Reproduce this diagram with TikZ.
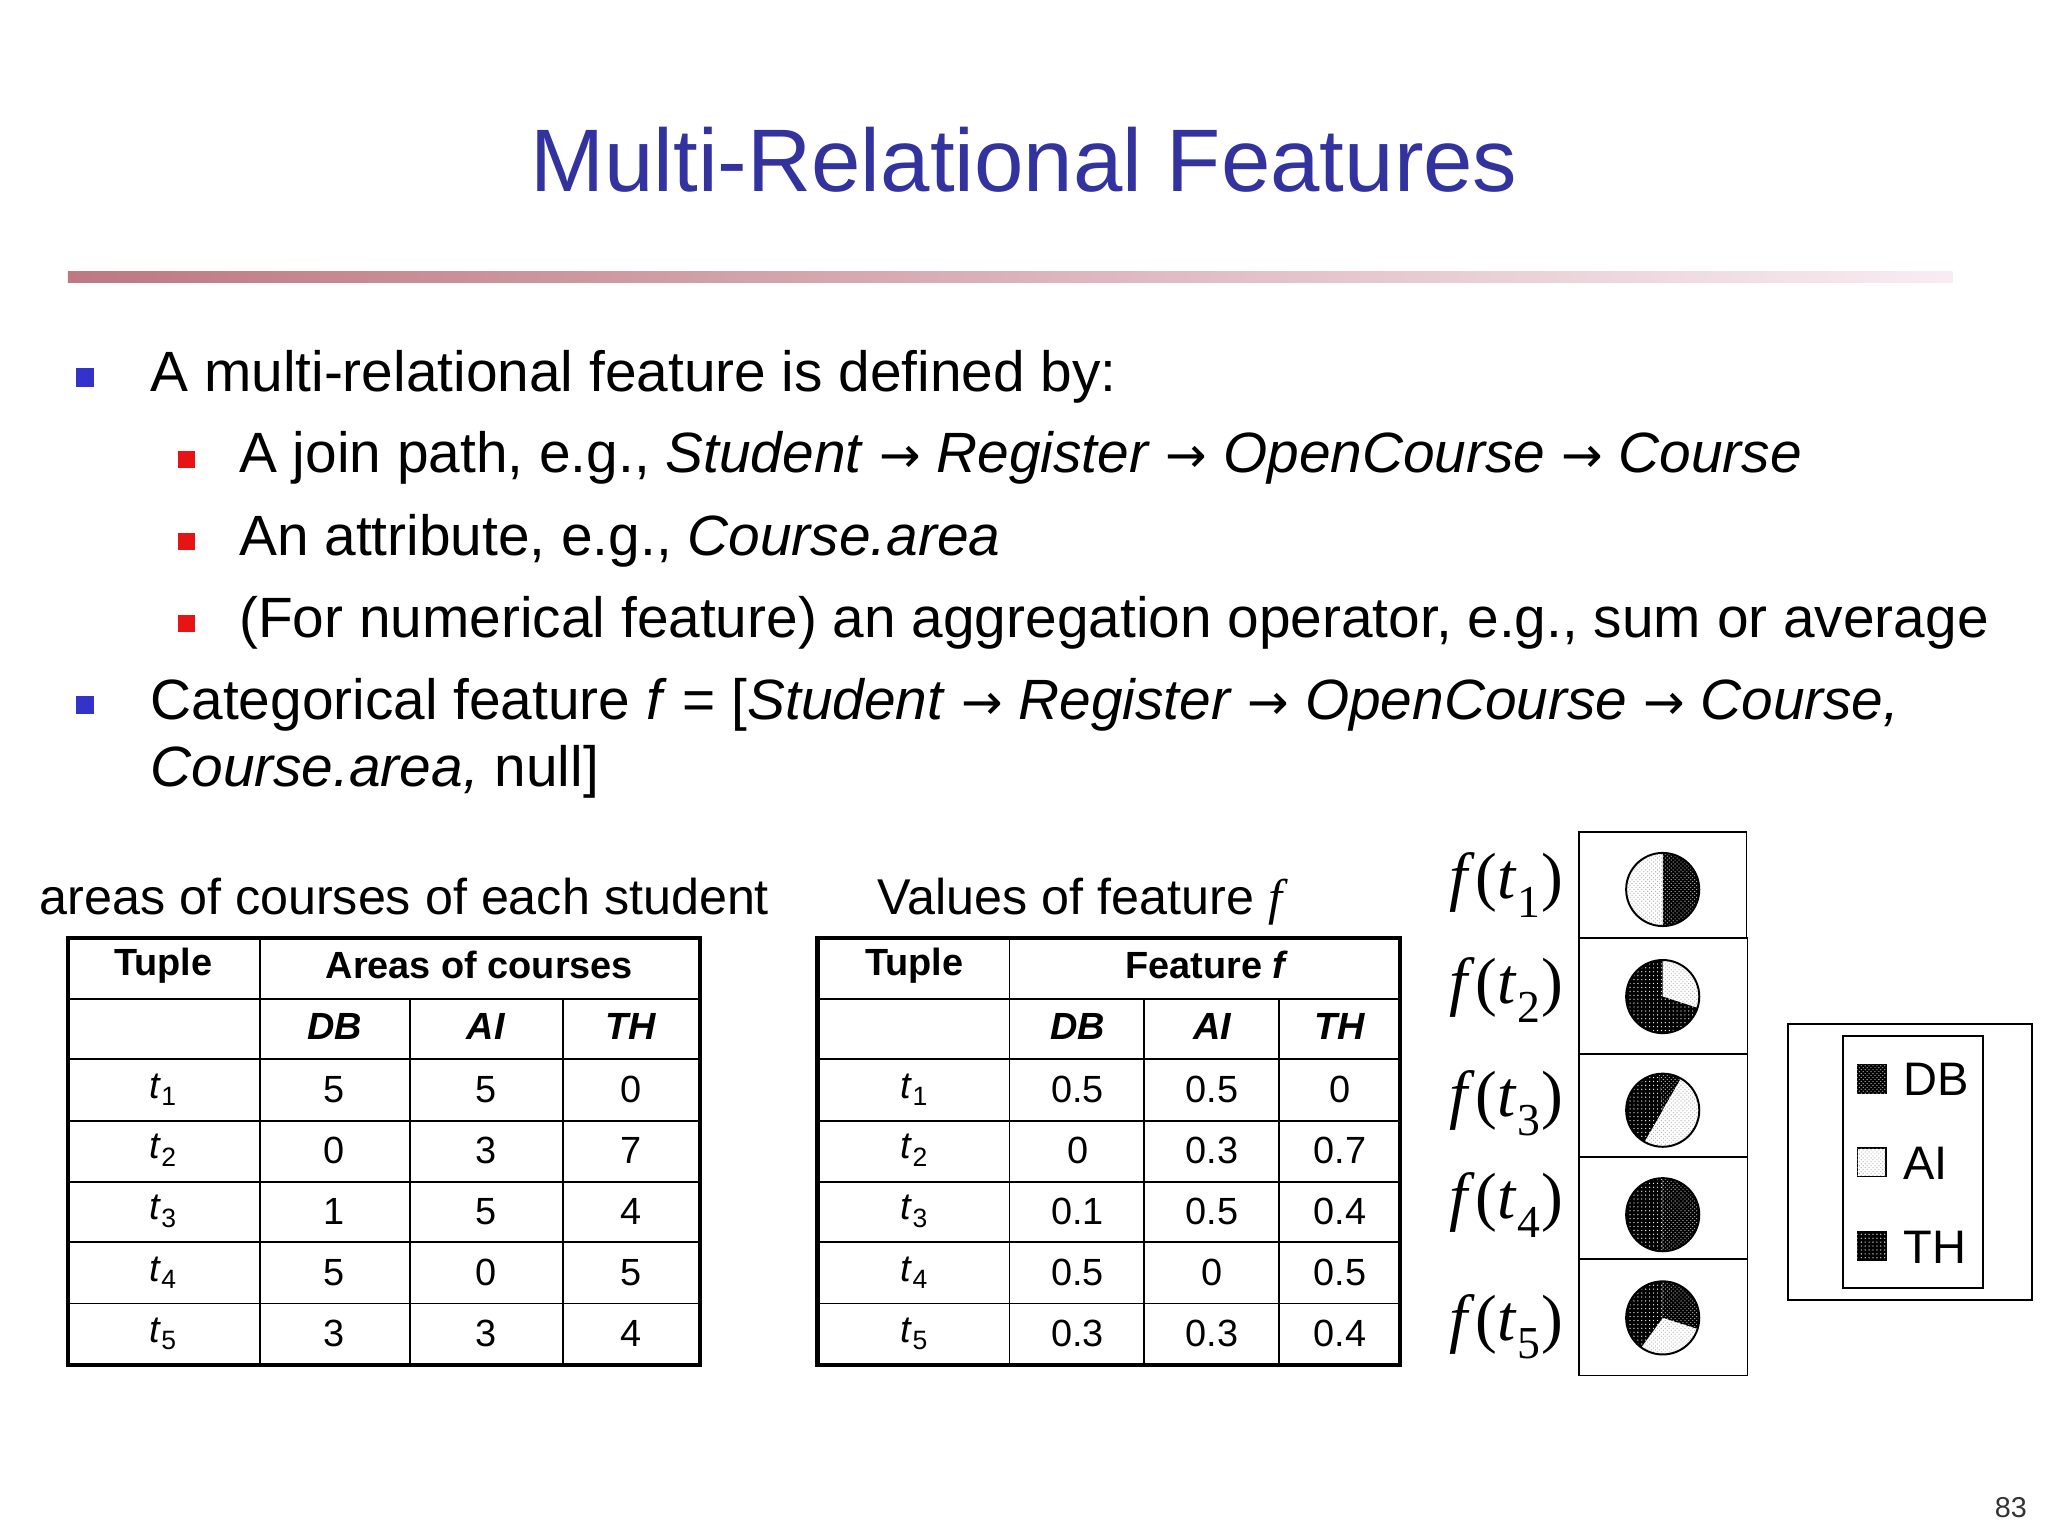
\documentclass[tikz,border=0pt]{standalone}
\usepackage{fontspec}
\setmainfont{Liberation Sans}
\newfontfamily\tms{Liberation Serif}
\newfontfamily\djv{DejaVu Sans}
\usetikzlibrary{patterns}
\definecolor{titleblue}{RGB}{51,51,160}
\definecolor{bulblue}{RGB}{51,51,204}
\definecolor{bulred}{RGB}{230,20,20}
\definecolor{rulered}{RGB}{190,120,130}
\definecolor{rulepink}{RGB}{248,236,242}
\newcommand{\arr}{{\djv\fontsize{38}{44}\selectfont →}}
\tikzset{
  body/.style={anchor=base west,font=\fontsize{43.5}{52}\selectfont,inner sep=0},
  cell/.style={font=\fontsize{29}{34}\selectfont,inner sep=0},
  hcell/.style={font=\fontsize{29}{34}\selectfont\bfseries,inner sep=0},
  captxt/.style={font=\fontsize{38.5}{44}\selectfont,inner sep=0},
  legtxt/.style={font=\fontsize{36}{42}\selectfont,inner sep=0},
  thinln/.style={line width=1.3pt},
  thickln/.style={line width=3.5pt},
  db/.style={fill=black,postaction={pattern=crosshatch dots,pattern color=white!70!black}},
  ai/.style={fill=white,postaction={pattern=crosshatch dots,pattern color=gray!60}},
  th/.style={fill=black,postaction={pattern=dots,pattern color=white}},
  pieedge/.style={draw=black,line width=1.5pt},
  fl/.style={font=\tms\fontsize{50}{56}\selectfont,inner sep=0}
}
\begin{document}
\begin{tikzpicture}[x=1pt,y=-1pt]
\fill[white] (0,0) rectangle (1568,1176);
\useasboundingbox (0,0) rectangle (1568,1176);
% title
\node[text=titleblue,font=\fontsize{68}{76}\selectfont] (title) at (784,122) {Multi-Relational Features};
\shade[left color=rulered,right color=rulepink] (52,208) rectangle (1495,216);
% bullets
\fill[bulblue] (58,282) rectangle (72,296);
\node[body] (b1) at (115,300) {A multi-relational feature is defined by:};
\fill[bulred] (136,345) rectangle (149,358);
\node[body] (b2) at (183,362) {A join path, e.g., \textit{Student} \arr{} \textit{Register} \arr{} \textit{OpenCourse} \arr{} \textit{Course}};
\fill[bulred] (136,408) rectangle (149,421);
\node[body] (b3) at (183,425) {An attribute, e.g., \textit{Course.area}};
\fill[bulred] (136,471) rectangle (149,484);
\node[body] (b4) at (183,488) {(For numerical feature) an aggregation operator, e.g., sum or average};
\fill[bulblue] (58,533) rectangle (72,547);
\node[body] (b5) at (115,551) {Categorical feature \textit{f} = [\textit{Student} \arr{} \textit{Register} \arr{} \textit{OpenCourse} \arr{} \textit{Course,}};
\node[body] (b6) at (115,602) {\textit{Course.area,} null]};
% captions
\node[captxt,anchor=base west] (c1) at (30,700) {areas of courses of each student};
\node[captxt,anchor=base west] (c2) at (672,700) {Values of feature {\tms\itshape f}};
% left table
\foreach \y in {765,811,858,905,951,998} \draw[thinln] (52,\y) -- (536,\y);
\draw[thinln] (199,718) -- (199,1045);
\draw[thinln] (314,765) -- (314,1045);
\draw[thinln] (431,765) -- (431,1045);
\draw[thickln] (52,718) rectangle (536,1045);
\node[hcell] (lh1) at (125,739) {Tuple};
\node[hcell] (lh2) at (367,739) {Areas of courses};
\node[hcell] (lh3) at (256,786) {\itshape DB};
\node[hcell] (lh4) at (372,786) {\itshape AI};
\node[hcell] (lh5) at (483,786) {\itshape TH};
\foreach \a/\b/\c [count=\r] in {5/5/0,0/3/7,1/5/4,5/0/5,3/3/4}{
  \pgfmathsetmacro\yy{834+46.75*(\r-1)}
  \node[cell] (lt\r) at (125,\yy) {\textit{t}\textsubscript{\r}};
  \node[cell] (la\r) at (256,\yy) {\a};
  \node[cell] (lb\r) at (372,\yy) {\b};
  \node[cell] (lc\r) at (483,\yy) {\c};
}
% right table
\foreach \y in {765,811,858,905,951,998} \draw[thinln] (626,\y) -- (1072,\y);
\draw[thinln] (773,718) -- (773,1045);
\draw[thinln] (876,765) -- (876,1045);
\draw[thinln] (979,765) -- (979,1045);
\draw[thickln] (626,718) rectangle (1072,1045);
\node[hcell] (rh1) at (700,739) {Tuple};
\node[hcell] (rh2) at (923,739) {Feature \itshape f};
\node[hcell] (rh3) at (825,786) {\itshape DB};
\node[hcell] (rh4) at (928,786) {\itshape AI};
\node[hcell] (rh5) at (1026,786) {\itshape TH};
\foreach \a/\b/\c [count=\r] in {0.5/0.5/0,0/0.3/0.7,0.1/0.5/0.4,0.5/0/0.5,0.3/0.3/0.4}{
  \pgfmathsetmacro\yy{834+46.75*(\r-1)}
  \node[cell] (rt\r) at (700,\yy) {\textit{t}\textsubscript{\r}};
  \node[cell] (ra\r) at (825,\yy) {\a};
  \node[cell] (rb\r) at (928,\yy) {\b};
  \node[cell] (rc\r) at (1026,\yy) {\c};
}
% pie boxes
\draw[line width=1.2pt] (1209,637) rectangle (1337,718);
\draw[line width=1.2pt] (1209,718) rectangle (1338,807);
\draw[line width=1.2pt] (1209,807) rectangle (1338,886);
\draw[line width=1.2pt] (1209,886) rectangle (1338,964);
\draw[line width=1.2pt] (1209,964) rectangle (1338,1053);
\foreach \y/\i in {688/1,768/2,855/3,933/4,1026/5}
  \node[fl,anchor=base east] (fl\i) at (1197,\y) {\textit{f}(\textit{t}\kern1pt\textsubscript{\i})};
\def\R{28}
% t1
\fill[db] (1273,681) -- +(-90:\R) arc[start angle=-90,end angle=90,radius=\R] -- cycle;
\fill[ai] (1273,681) -- +(90:\R) arc[start angle=90,end angle=270,radius=\R] -- cycle;
\draw[pieedge] (1273,681) circle[radius=\R];
% t2
\fill[ai] (1273,763) -- +(-90:\R) arc[start angle=-90,end angle=18,radius=\R] -- cycle;
\fill[th] (1273,763) -- +(18:\R) arc[start angle=18,end angle=270,radius=\R] -- cycle;
\draw[pieedge] (1273,763) circle[radius=\R];
% t3
\fill[db] (1273,850) -- +(-96:\R) arc[start angle=-96,end angle=-60,radius=\R] -- cycle;
\fill[ai] (1273,850) -- +(-60:\R) arc[start angle=-60,end angle=120,radius=\R] -- cycle;
\fill[th] (1273,850) -- +(120:\R) arc[start angle=120,end angle=264,radius=\R] -- cycle;
\draw[pieedge] (1273,850) circle[radius=\R];
% t4
\fill[db] (1273,930) -- +(-90:\R) arc[start angle=-90,end angle=90,radius=\R] -- cycle;
\fill[th] (1273,930) -- +(90:\R) arc[start angle=90,end angle=270,radius=\R] -- cycle;
\draw[pieedge] (1273,930) circle[radius=\R];
% t5
\fill[db] (1273,1009) -- +(-90:\R) arc[start angle=-90,end angle=18,radius=\R] -- cycle;
\fill[ai] (1273,1009) -- +(18:\R) arc[start angle=18,end angle=126,radius=\R] -- cycle;
\fill[th] (1273,1009) -- +(126:\R) arc[start angle=126,end angle=270,radius=\R] -- cycle;
\draw[pieedge] (1273,1009) circle[radius=\R];
% legend
\draw[line width=1.5pt] (1369,784) rectangle (1556,995);
\draw[line width=1.5pt] (1411,793) rectangle (1518,986);
\filldraw[db,draw=black,line width=1pt] (1422,815) rectangle (1444,837);
\filldraw[ai,draw=black,line width=1pt] (1422,879) rectangle (1444,901);
\filldraw[th,draw=black,line width=1pt] (1422,943) rectangle (1444,965);
\node[legtxt,anchor=base west] (lg1) at (1457,839) {DB};
\node[legtxt,anchor=base west] (lg2) at (1457,903) {AI};
\node[legtxt,anchor=base west] (lg3) at (1457,967) {TH};
\node[font=\fontsize{22}{26}\selectfont,text=black!80,anchor=base east,inner sep=0] (pg) at (1552,1162) {83};
\end{tikzpicture}
\end{document}
